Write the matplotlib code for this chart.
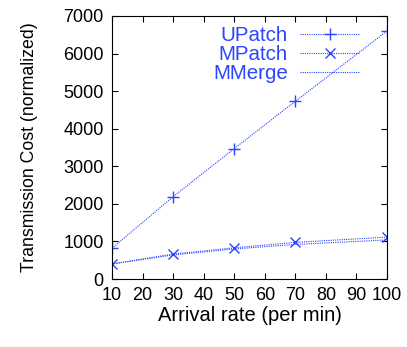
import matplotlib.pyplot as plt
from matplotlib.ticker import MultipleLocator

plt.rcParams['font.family'] = ['Liberation Sans', 'DejaVu Sans']

# Arrival rate values and transmission costs
rates = [10, 30, 50, 70, 100]
upatch = [820, 2190, 3470, 4730, 6600]
mpatch = [400, 665, 830, 975, 1115]
mmerge = [400, 640, 800, 920, 1040]

blue = '#2b45ff'

fig = plt.figure(figsize=(4.07, 3.47), dpi=100)
ax = fig.add_axes([112 / 407, 68 / 347, 275 / 407, 263 / 347])

ax.plot(rates, upatch, color=blue, linestyle=(0, (1, 1)), linewidth=0.8,
        marker='+', markersize=8, markeredgewidth=1.0, label='UPatch')
ax.plot(rates, mpatch, color=blue, linestyle=(0, (1, 1)), linewidth=0.8,
        marker='x', markersize=7, markeredgewidth=1.0, label='MPatch')
ax.plot(rates, mmerge, color=blue, linestyle=(0, (1, 1)), linewidth=0.8,
        label='MMerge')

ax.set_xlim(10, 100)
ax.set_ylim(0, 7000)
ax.xaxis.set_major_locator(MultipleLocator(10))
ax.yaxis.set_major_locator(MultipleLocator(1000))
ax.tick_params(direction='in', top=True, right=True, length=4, labelsize=13, pad=6)

ax.set_xlabel('Arrival rate (per min)', fontsize=14.5, labelpad=1)
ax.set_ylabel('Transmission Cost (normalized)', fontsize=12.8, labelpad=18)

leg = ax.legend(loc='upper right', bbox_to_anchor=(364 / 407, 325 / 347),
                bbox_transform=fig.transFigure, frameon=False, fontsize=14.8,
                markerfirst=False, handlelength=2.9, labelspacing=0.0,
                borderaxespad=0.0, handletextpad=0.6, borderpad=0.2)
for t in leg.get_texts():
    t.set_color(blue)

fig.savefig('out.png', dpi=100)
